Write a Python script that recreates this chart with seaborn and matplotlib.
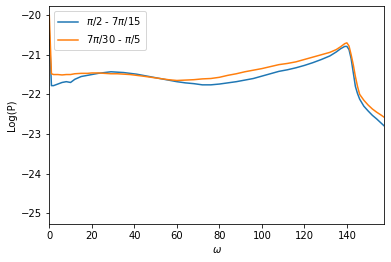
import pandas as pd
import matplotlib
matplotlib.use("Agg")
import matplotlib.pyplot as plt
import seaborn as sns

# valores
omega = [0, 1, 2, 4, 6, 8, 10, 12, 15, 18, 20, 23, 26, 29, 32, 35, 38, 41, 44,
         48, 52, 56, 60, 64, 68, 72, 76, 80, 84, 88, 92, 96, 100, 104, 108, 112,
         116, 120, 124, 128, 132, 135, 137, 139, 140, 141, 142, 143, 144, 145,
         146, 148, 150, 152, 154, 156, 157.6]

logp_a = [-20.4, -21.78, -21.78, -21.74, -21.70, -21.68, -21.70, -21.62, -21.55,
          -21.52, -21.50, -21.47, -21.45, -21.43, -21.44, -21.45, -21.47, -21.49,
          -21.52, -21.56, -21.60, -21.64, -21.68, -21.71, -21.73, -21.76, -21.76,
          -21.74, -21.71, -21.68, -21.64, -21.60, -21.54, -21.48, -21.42, -21.38,
          -21.33, -21.27, -21.20, -21.12, -21.03, -20.93, -20.85, -20.79, -20.79,
          -20.87, -21.10, -21.45, -21.80, -21.98, -22.12, -22.30, -22.42, -22.53,
          -22.62, -22.72, -22.80]

logp_b = [-20.0, -21.48, -21.50, -21.50, -21.51, -21.50, -21.50, -21.48, -21.47,
          -21.47, -21.46, -21.46, -21.47, -21.48, -21.48, -21.49, -21.50, -21.52,
          -21.54, -21.57, -21.60, -21.63, -21.65, -21.64, -21.63, -21.61, -21.60,
          -21.57, -21.52, -21.48, -21.43, -21.39, -21.35, -21.30, -21.25, -21.22,
          -21.18, -21.12, -21.06, -21.00, -20.94, -20.87, -20.80, -20.72, -20.70,
          -20.78, -21.00, -21.25, -21.55, -21.80, -22.00, -22.15, -22.27, -22.37,
          -22.45, -22.52, -22.58]

rotulos = [r'$\pi/2$ - $7\pi/15$', r'$7\pi/30$ - $\pi/5$']

df = pd.concat([
    pd.DataFrame({'omega': omega, 'logp': logp_a, 'faixa': rotulos[0]}),
    pd.DataFrame({'omega': omega, 'logp': logp_b, 'faixa': rotulos[1]}),
])

fig = plt.figure(figsize=(391 / 72, 262 / 72), dpi=72)
ax = fig.add_axes([49.3 / 391, 1 - 224.3 / 262, 335 / 391, 218.3 / 262])

sns.lineplot(data=df, x='omega', y='logp', hue='faixa', ax=ax,
             palette=['#1f77b4', '#ff7f0e'], linewidth=1.5)

ax.set_xlim(0, 157.6)
ax.set_ylim(-25.28, -19.77)
ax.set_xlabel(r'$\omega$')
ax.set_ylabel('Log(P)')
ax.legend(loc='upper left', title=None)

fig.savefig('out.png', dpi=72)
